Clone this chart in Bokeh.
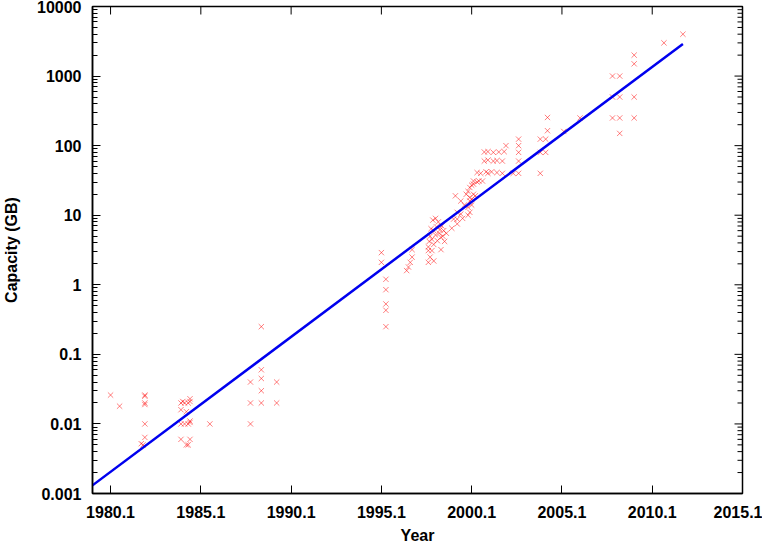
import math
from bokeh.plotting import figure
from bokeh.models import FixedTicker, CustomJSTickFormatter, ColumnDataSource, Range1d
from bokeh.embed import file_html
from bokeh.resources import INLINE

# ---------------- data ----------------
years = [
    1980.1, 1980.6,
    1982.0, 1982.0, 1982.0, 1982.0, 1982.0, 1982.0, 1981.8, 1981.9,
    1984.0, 1984.1, 1984.2, 1984.4, 1984.5, 1984.5, 1984.0, 1984.3,
    1984.0, 1984.2, 1984.4, 1984.5, 1984.5, 1984.0, 1984.5, 1984.3, 1984.4,
    1985.6,
    1987.85, 1987.85, 1987.85, 1988.45, 1988.45, 1988.45, 1988.45, 1988.45, 1989.3, 1989.3,
    1995.1, 1995.1, 1995.35, 1995.35, 1995.35, 1995.35, 1995.35,
    1996.8, 1996.8, 1996.7, 1996.6, 1996.5,
    1997.7, 1997.7, 1997.9,
    1997.7, 1997.75, 1997.8, 1997.85, 1997.9, 1997.95, 1998.0, 1998.0, 1998.1, 1998.15,
    1998.2, 1998.25, 1998.3, 1998.35, 1998.4, 1998.4, 1998.45, 1998.5, 1998.55, 1998.6,
    1998.7, 1998.1, 1998.0, 1997.8,
    1999.1, 1999.3, 1999.3, 1999.5, 1999.6, 1999.2, 1999.5, 1999.7, 1999.9, 2000.0,
    1999.8, 2000.0, 2000.1, 2000.2, 2000.3, 1999.9, 2000.0, 2000.1, 2000.2, 2000.4,
    2000.2, 2000.5, 2000.7, 1999.0, 1999.3, 1999.9, 2000.0, 2000.1,
    2000.4, 2000.6, 2000.9, 2001.0, 2001.2, 2001.5, 2001.8,
    2000.8, 2001.0, 2001.3, 2001.5, 2001.8,
    2000.8, 2001.0, 2001.3, 2001.6, 2001.9,
    2002.0, 2002.7, 2002.7, 2002.7, 2002.7, 2002.7, 2002.4,
    2003.9, 2004.2, 2003.9, 2004.2, 2003.9, 2004.3, 2004.3,
    2005.2, 2006.1,
    2007.9, 2008.3, 2007.9, 2008.3, 2009.1, 2007.9, 2008.3, 2009.1, 2008.3,
    2009.1, 2009.1, 2010.75, 2011.8,
]
capacity_gb = [
    0.026, 0.018,
    0.026, 0.025, 0.02, 0.019, 0.01, 0.0064, 0.0052, 0.005,
    0.02, 0.021, 0.02, 0.02, 0.023, 0.021, 0.016, 0.015,
    0.01, 0.01, 0.01, 0.0105, 0.011, 0.006, 0.006, 0.005, 0.005,
    0.01,
    0.04, 0.02, 0.01, 0.25, 0.06, 0.045, 0.03, 0.02, 0.04, 0.02,
    2.9, 2.1, 1.2, 0.85, 0.53, 0.43, 0.25,
    3.2, 2.5, 2.1, 1.8, 1.6,
    2.1, 3.1, 3.1,
    3.5, 4.2, 5.0, 6.4, 4.5, 8.5, 6.0, 3.8, 5.2, 6.8,
    4.3, 8.0, 5.5, 6.2, 3.2, 4.8, 7.0, 5.0, 6.0, 4.2,
    5.5, 9.0, 2.2, 2.5,
    8.8, 8.8, 11, 10.4, 9.0, 19, 16, 14, 13, 16,
    20, 18, 17, 20, 19, 22, 25, 27, 28, 30,
    31, 31, 31, 6.5, 7.5, 10, 11, 14,
    41, 40, 42, 40, 42, 41, 40,
    60, 62, 60, 61, 60,
    81, 82, 80, 81, 82,
    100, 124, 100, 80, 60, 40, 40,
    124, 124, 80, 80, 40, 164, 254,
    160, 250,
    1000, 1000, 500, 500, 500, 250, 250, 250, 150,
    2000, 1500, 3000, 4000,
]

fit_years = [1979.1, 2011.8]
fit_capacity_gb = [0.00131, 2900]

x_ticks = [1980.1, 1985.1, 1990.1, 1995.1, 2000.1, 2005.1, 2010.1, 2015.1]
y_decades = [0.001, 0.01, 0.1, 1, 10, 100, 1000, 10000]
y_minor = [d * k for d in y_decades[:-1] for k in range(2, 10)]

X_MIN, X_MAX = 1979.1, 2015.1
Y_MIN, Y_MAX = 0.001, 10000

# ---------------- figure ----------------
p = figure(width=762, height=546, output_backend="svg", toolbar_location=None,
           y_axis_type="log",
           x_range=Range1d(X_MIN, X_MAX), y_range=Range1d(Y_MIN, Y_MAX),
           min_border_left=88, min_border_right=20, min_border_top=6, min_border_bottom=50)
p.xgrid.visible = False
p.ygrid.visible = False
p.outline_line_color = "black"
p.outline_line_width = 1.5
p.background_fill_color = "white"
p.border_fill_color = "white"

src = ColumnDataSource(dict(x=years, y=capacity_gb))
p.scatter("x", "y", source=src, marker="x", size=7.5, line_color="#ff0000",
          line_alpha=0.5, line_width=1)
p.line(fit_years, fit_capacity_gb, line_color="#0000ee", line_width=2.5)

# mirrored inward ticks on the top and right frame edges
p.scatter(x=x_ticks, y=[Y_MAX] * len(x_ticks), marker="dash", angle=math.pi / 2,
          size=16, line_color="black", line_width=1)
p.scatter(x=[X_MAX] * len(y_decades), y=y_decades, marker="dash",
          size=16, line_color="black", line_width=1)
p.scatter(x=[X_MAX] * len(y_minor), y=y_minor, marker="dash",
          size=10, line_color="black", line_width=1)

xt = FixedTicker(ticks=x_ticks, minor_ticks=[])
yt = FixedTicker(ticks=y_decades, minor_ticks=y_minor)
yfmt = CustomJSTickFormatter(code="""
const e = Math.round(Math.log10(tick));
return e >= 0 ? String(Math.pow(10, e)) : Math.pow(10, e).toFixed(-e);
""")
xfmt = CustomJSTickFormatter(code="return tick.toFixed(1);")

font = "Liberation Sans"

xa = p.xaxis[0]
xa.ticker = xt
xa.formatter = xfmt
xa.axis_label = "Year"
ya = p.yaxis[0]
ya.ticker = yt
ya.formatter = yfmt
ya.axis_label = "Capacity (GB)"

for ax in (xa, ya):
    ax.major_label_text_font = font
    ax.major_label_text_font_style = "bold"
    ax.major_label_text_font_size = "16px"
    ax.major_label_text_color = "black"
    ax.axis_label_text_font = font
    ax.axis_label_text_font_style = "bold"
    ax.axis_label_text_font_size = "16px"
    ax.axis_label_text_color = "black"
    ax.axis_line_color = "black"
    ax.axis_line_width = 1.5
    ax.major_tick_line_color = "black"
    ax.minor_tick_line_color = "black"
    ax.major_tick_in = 8
    ax.major_tick_out = 0
    ax.minor_tick_in = 5
    ax.minor_tick_out = 0

xa.major_label_standoff = 12
xa.axis_label_standoff = 6
ya.major_label_standoff = 11
ya.axis_label_standoff = 14

open("out.html", "w").write(file_html(p, INLINE))
